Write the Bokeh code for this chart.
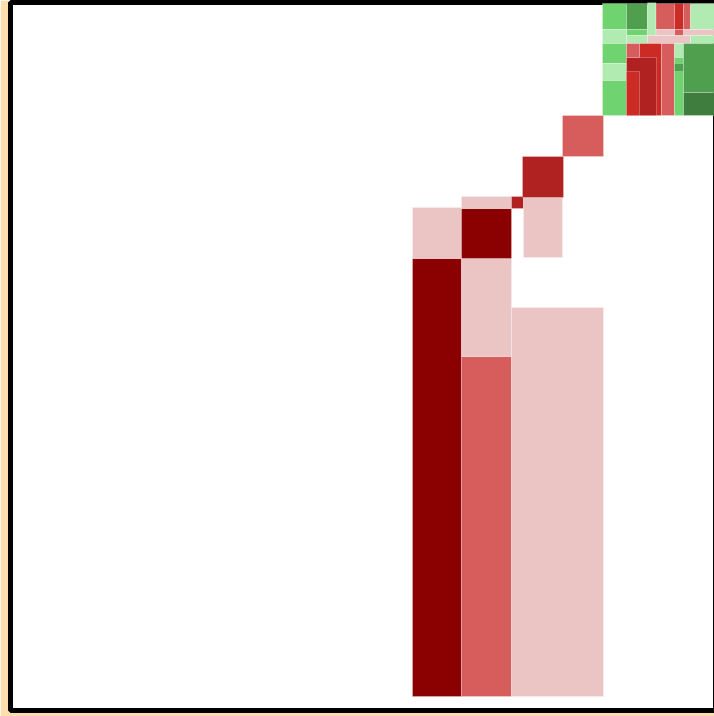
from bokeh.plotting import figure
from bokeh.models import ColumnDataSource, Range1d
from bokeh.embed import file_html
from bokeh.resources import INLINE

# Rectangles (data units): left, right, bottom, top, change level
left = [40.2, 45.1, 45.1, 50.1, 40.2, 45.1, 45.1, 50.1, 51.3, 51.2, 55.2,
        59.2, 61.6, 61.6, 63.7, 64.55, 66.4, 66.4, 67.3, 68.0, 64.55, 67.3,
        59.2, 61.6, 63.7, 68.0,
        59.2, 59.2, 59.2, 61.6, 62.9, 61.6, 61.6, 65.1, 66.4, 66.4, 66.4, 67.3, 67.3]
right = [45.1, 50.1, 50.1, 59.3, 45.1, 50.1, 50.1, 51.3, 55.2, 55.3, 59.3,
         61.6, 63.7, 63.7, 64.55, 66.4, 67.3, 67.3, 68.0, 70.6, 66.4, 70.6,
         61.6, 63.7, 68.0, 70.6,
         61.6, 61.6, 61.6, 62.9, 65.1, 64.6, 62.9, 66.4, 67.3, 67.3, 67.3, 70.6, 70.6]
bottom = [1.4, 1.4, 35.4, 1.4, 45.2, 45.2, 50.2, 50.2, 45.3, 51.3, 55.4,
          68.1, 68.1, 67.5, 67.5, 68.1, 68.1, 67.5, 68.1, 68.1, 67.5, 67.5,
          66.7, 66.7, 66.7, 66.7,
          64.7, 63.0, 59.5, 65.3, 59.5, 59.5, 59.5, 59.5, 65.3, 59.5, 63.9, 61.8, 59.5]
top = [45.2, 35.4, 45.2, 40.3, 50.3, 50.2, 51.4, 51.4, 51.3, 55.4, 59.5,
       70.7, 70.7, 68.1, 70.8, 70.7, 70.7, 68.1, 70.7, 70.7, 68.1, 68.1,
       68.1, 67.5, 67.5, 67.5,
       66.7, 64.7, 63.0, 66.7, 66.7, 65.3, 63.9, 66.7, 66.7, 65.3, 64.7, 66.7, 61.8]
change = [-5, -2, -1, -1, -1, -5, -1, -4, -1, -4, -2,
          2, 3, 2, 1, -2, -3, -2, -2, 1, -1, -1,
          1, 1, -1, 1,
          2, 1, 2, -2, -3, -4, -3, -2, 1, 2, 3, 3, 4]

palette = {-5: "#8B0000", -4: "#B02121", -3: "#CC2A24", -2: "#D75C5C", -1: "#EBC4C4",
           1: "#B1EBB1", 2: "#6FD46F", 3: "#4F9F4F", 4: "#3F7D3F"}
colors = [palette[c] for c in change]

src = ColumnDataSource(dict(left=left, right=right, bottom=bottom, top=top, color=colors))

p = figure(width=716, height=716, x_range=Range1d(0, 70.6), y_range=Range1d(0, 70.8),
           output_backend="svg", toolbar_location=None,
           x_axis_location=None, y_axis_location=None,
           min_border_left=10, min_border_right=0, min_border_top=2, min_border_bottom=6)
p.grid.visible = False
p.border_fill_color = "navajowhite"
p.background_fill_color = "white"
p.outline_line_color = "black"
p.outline_line_width = 5

p.quad(left="left", right="right", bottom="bottom", top="top", source=src,
       fill_color="color", line_color="white", line_alpha=0.25, line_width=1)

open("out.html", "w").write(file_html(p, INLINE))
